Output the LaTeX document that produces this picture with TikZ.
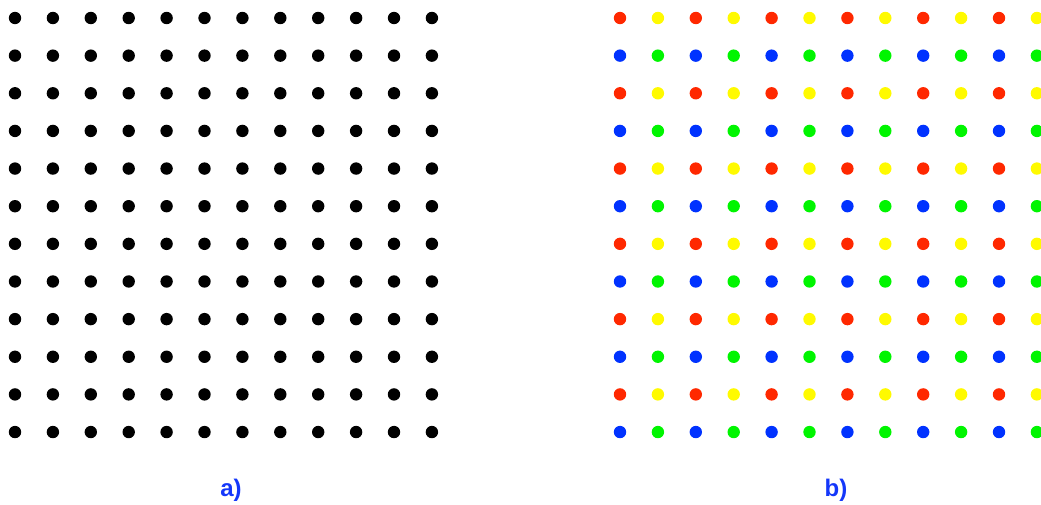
\documentclass[tikz,border=0pt]{standalone}
\usepackage{fontspec}
\setmainfont{Liberation Sans}
\definecolor{dred}{RGB}{255,40,0}
\definecolor{dyellow}{RGB}{255,250,0}
\definecolor{dblue}{RGB}{0,50,255}
\definecolor{dgreen}{RGB}{0,245,0}
\definecolor{lblue}{RGB}{20,55,250}
\begin{document}
\begin{tikzpicture}[x=1pt,y=-1pt,
  dot/.style={circle,inner sep=0pt,minimum size=12.4pt},
  lab/.style={text=lblue,font=\fontsize{24}{28}\selectfont\bfseries}]
\useasboundingbox (0,0) rectangle (1041,504);
\begin{scope}
\clip (0,0) rectangle (1041,504);
\foreach \i in {0,...,11}{
  \foreach \j in {0,...,11}{
    \pgfmathsetmacro{\xx}{15+37.9*\i}
    \pgfmathsetmacro{\yy}{18+37.64*\j}
    \node[dot,fill=black] (a-\i-\j) at (\xx,\yy) {};
    \pgfmathsetmacro{\xb}{620+37.9*\i}
    \pgfmathtruncatemacro{\ci}{mod(\i,2)}
    \pgfmathtruncatemacro{\cj}{mod(\j,2)}
    \ifnum\cj=0
      \ifnum\ci=0 \def\col{dred}\else\def\col{dyellow}\fi
    \else
      \ifnum\ci=0 \def\col{dblue}\else\def\col{dgreen}\fi
    \fi
    \node[dot,fill=\col] (b-\i-\j) at (\xb,\yy) {};
  }
}
\end{scope}
\node[lab] (la) at (231,490) {a)};
\node[lab] (lb) at (836,490) {b)};
\end{tikzpicture}
\end{document}
